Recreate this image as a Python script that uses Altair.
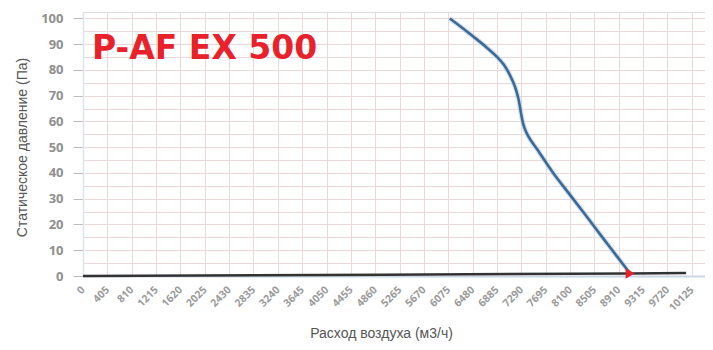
import altair as alt
import pandas as pd

# X axis tick labels (m3/h)
x_ticks = [0, 405, 810, 1215, 1620, 2025, 2430, 2835, 3240, 3645, 4050, 4455,
           4860, 5265, 5670, 6075, 6480, 6885, 7290, 7695, 8100, 8505, 8910,
           9315, 9720, 10125, 10530]
y_ticks = [0, 5, 10, 15, 20, 25, 30, 35, 40, 45, 50, 55, 60, 65, 70, 75, 80,
           85, 90, 95, 100]

# Fan curve
fan_flow = [6100, 6300, 6490, 6700, 6890, 7000, 7100, 7185, 7240, 7270, 7300,
            7335, 7385, 7450, 7550, 7820, 8100, 8380, 8720, 9100]
fan_pressure = [100, 96.5, 93, 89, 85, 82, 78, 73.5, 69, 65.3, 61.3,
                58, 55.2, 52.6, 49.3, 40, 31.5, 23, 12.5, 1.0]

# System line
sys_flow = [0, 5000, 9100, 10030]
sys_pressure = [0, 0.5, 1.0, 1.2]

# Operating point
op_flow = [9100]
op_pressure = [1.0]

fan = pd.DataFrame({"q": fan_flow, "p": fan_pressure})
sysdf = pd.DataFrame({"q": sys_flow, "p": sys_pressure})
opdf = pd.DataFrame({"q": op_flow, "p": op_pressure})

X_MAX = 10345
Y_MAX = 102.5

x_enc = alt.X("q:Q", scale=alt.Scale(domain=[0, X_MAX], nice=False, zero=False),
              axis=alt.Axis(values=x_ticks, tickCount=200, format="d",
                            labelAngle=315, labelAlign="right",
                            labelBaseline="middle", labelPadding=12,
                            labelFontSize=10.5, labelFontWeight="bold",
                            labelColor="#9a9a9a", labelFont="Open Sans",
                            labelOverlap=False, ticks=False,
                            domainColor="#c8d6e6", domainWidth=2,
                            gridColor="#ead9d9", gridWidth=1,
                            title="Расход воздуха (м3/ч)", titleFont="Liberation Sans",
                            titleFontSize=14, titleFontWeight="normal",
                            titleColor="#555555", titleX=298, titleY=61,
                            titleAlign="center", titleBaseline="alphabetic"))

y_enc = alt.Y("p:Q", scale=alt.Scale(domain=[0, Y_MAX], nice=False),
              axis=alt.Axis(values=y_ticks, tickCount=200, format="d",
                            labelExpr="datum.value % 10 === 0 ? datum.label : ''",
                            labelFontSize=13, labelFontWeight="bold",
                            labelColor="#8f8f8f", labelFont="Open Sans",
                            labelOverlap=False, labelPadding=10,
                            tickSize=10, tickColor="#bbbbbb",
                            tickOpacity={"condition": {"test": "datum.value % 10 === 0", "value": 1}, "value": 0},
                            domainColor="#dde4ec", domainWidth=1.5,
                            gridColor="#ead9d9", gridWidth=1,
                            title="Статическое давление (Па)", titleFont="Liberation Sans",
                            titleFontSize=14, titleFontWeight="normal",
                            titleColor="#555555", titleX=-61, titleY=135,
                            titleAlign="center", titleBaseline="middle", titleAngle=270))

base_sys = alt.Chart(sysdf).mark_line(color="#333333", strokeWidth=2.5).encode(x=x_enc, y=y_enc)

fan_halo = alt.Chart(fan).mark_line(color="#a9c6e4", strokeWidth=5, opacity=0.5,
                                    interpolate="catmull-rom").encode(x="q:Q", y="p:Q")
fan_line = alt.Chart(fan).mark_line(color="#3d6a94", strokeWidth=2.6,
                                    interpolate="catmull-rom").encode(x="q:Q", y="p:Q")

op_point = alt.Chart(opdf).mark_point(shape="triangle-right", filled=True, color="#e3242b",
                                      size=110, opacity=1).encode(x="q:Q", y="p:Q")

chart = alt.layer(base_sys, fan_halo, fan_line, op_point).properties(
    width=622, height=264,
    autosize=alt.AutoSizeParams(type="none"),
    padding={"left": 75, "top": 4, "right": 0, "bottom": 66},
    title=alt.TitleParams("P-AF EX 500", orient="none", anchor="start",
                          font="DejaVu Sans", fontSize=33, fontWeight="bold",
                          color="#e8212b", dx=9, dy=47, baseline="alphabetic"),
).configure_view(stroke=None).configure(background="white")

chart.save("out.html", embed_options={"renderer": "svg", "actions": False})
